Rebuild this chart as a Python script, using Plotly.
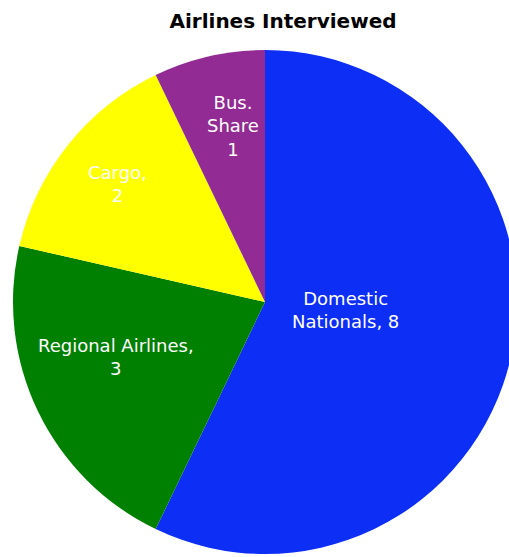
import math
import plotly.graph_objects as go

categories = ["Domestic Nationals", "Regional Airlines", "Cargo", "Bus. Share"]
values = [8, 3, 2, 1]
label_text = ["Domestic<br>Nationals, 8", "Regional Airlines,<br>3", "Cargo,<br>2", "Bus.<br>Share<br>1"]
colors = ["#0C2EF5", "#008000", "#FFFF00", "#922B93"]
# style: label placement relative to each slice's bisector
label_radius_frac = [0.32, 0.63, 0.75, 0.71]
label_angle_shift = [-7.0, 5.5, 0.0, 2.6]  # degrees

W, H = 520, 557
cx, cy, r = 265, 302, 252

fig = go.Figure(go.Pie(
    labels=categories,
    values=values,
    textinfo="none",
    sort=False,
    direction="clockwise",
    rotation=0,
    marker=dict(colors=colors, line=dict(width=0)),
    domain=dict(x=[(cx - r) / W, (cx + r) / W], y=[(H - cy - r) / H, (H - cy + r) / H]),
    showlegend=False,
    hoverinfo="label+value",
))

# labels along each slice's bisector, derived from the values
total = sum(values)
cum = 0
annotations = []
for txt, v, f, sh in zip(label_text, values, label_radius_frac, label_angle_shift):
    mid = (cum + v / 2) / total * 2 * math.pi + math.radians(sh)
    cum += v
    px = cx + f * r * math.sin(mid)
    py = cy - f * r * math.cos(mid)
    annotations.append(dict(
        text=txt, x=px / W, y=1 - py / H, xref="paper", yref="paper",
        xanchor="center", yanchor="middle", showarrow=False, align="center",
        font=dict(family="DejaVu Sans, sans-serif", size=18, color="white"),
    ))

fig.update_layout(
    width=W, height=H,
    margin=dict(l=0, r=0, t=0, b=0),
    paper_bgcolor="white",
    annotations=annotations,
    title=dict(text="<b>Airlines Interviewed</b>", x=283 / W, xanchor="center",
               y=1 - 21 / H, yanchor="middle",
               font=dict(family="DejaVu Sans, sans-serif", size=20, color="black")),
)

fig.write_html("out.html", post_script="document.body.style.overflow='hidden';document.body.style.margin='0';")
